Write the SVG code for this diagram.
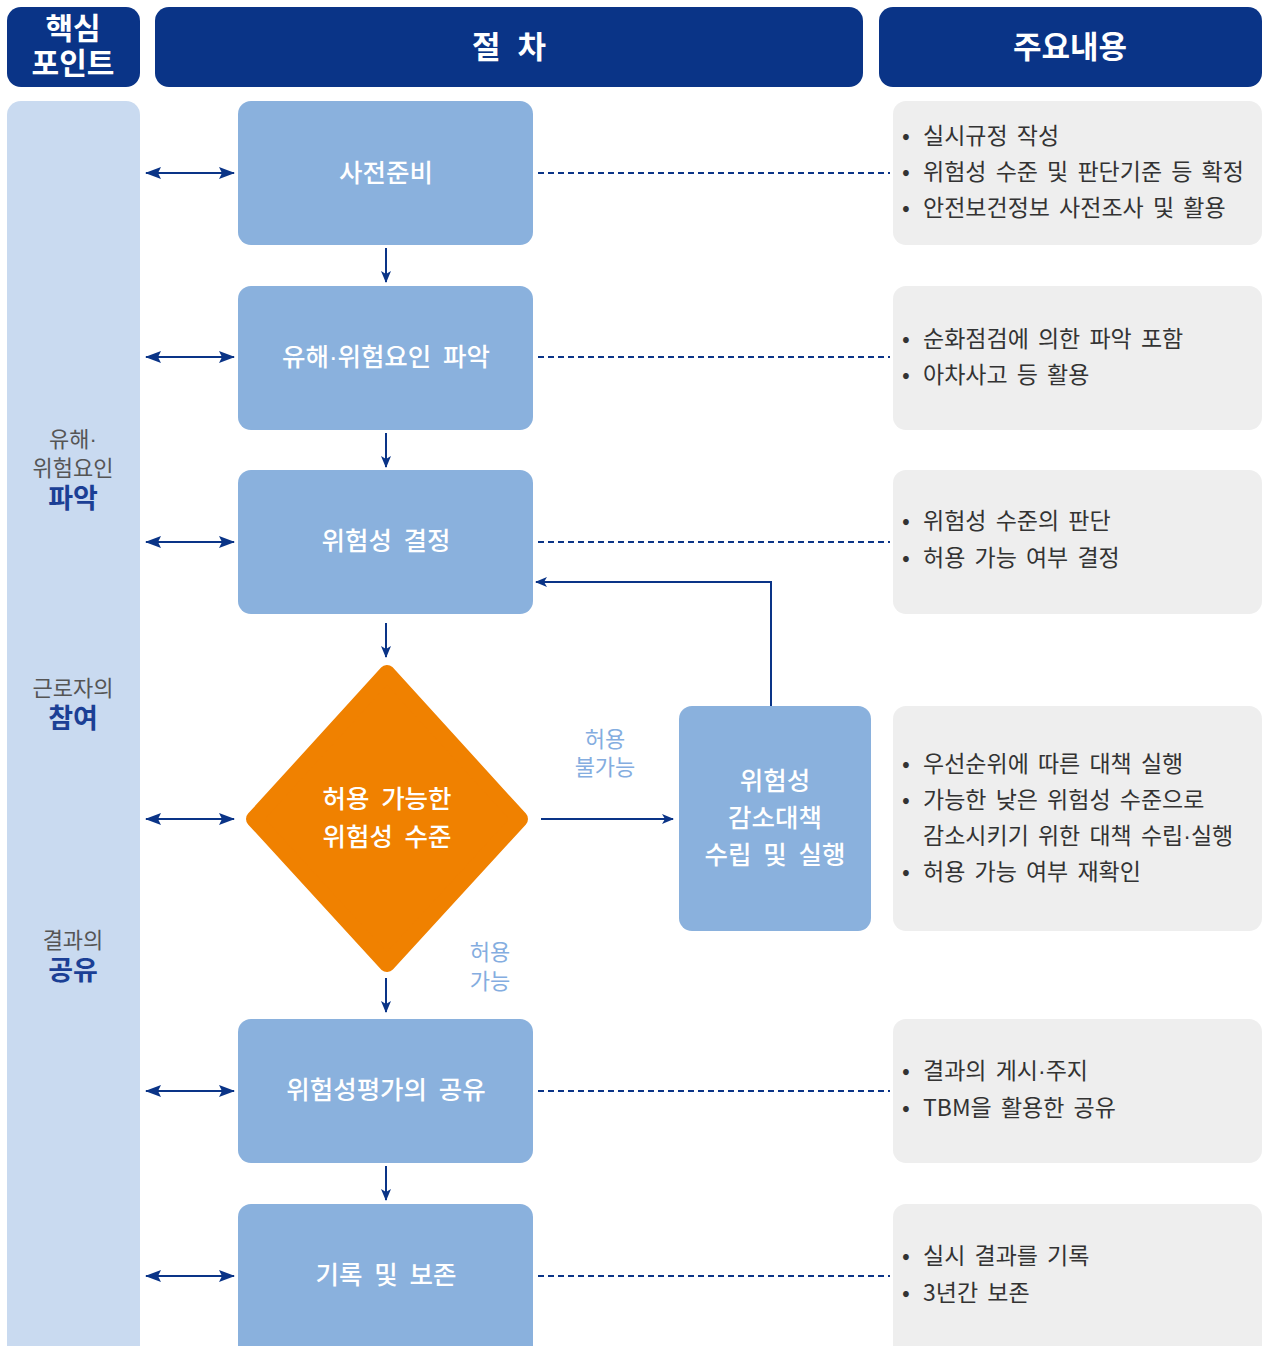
<svg xmlns="http://www.w3.org/2000/svg" width="1268" height="1346" viewBox="0 0 1268 1346">
<defs>
<style>
text{font-family:"Noto Sans CJK KR","Noto Sans",sans-serif;}
.dot{font-family:"Liberation Sans",sans-serif;}
.hdr{fill:#0a3487;}
.hdrt{fill:#fff;font-size:31px;font-weight:700;text-anchor:middle;}
.hdrs{fill:#fff;font-size:30px;font-weight:700;text-anchor:middle;}
.side{fill:#c9daf0;}
.sidet{fill:#555;font-size:22px;text-anchor:middle;}
.sideb{fill:#1b3f95;font-size:27px;font-weight:700;text-anchor:middle;}
.box{fill:#8ab1dd;}
.boxt{fill:#fff;font-size:25.5px;font-weight:500;text-anchor:middle;word-spacing:6px;}
.info{fill:#eeeeee;}
.infot{fill:#333;font-size:23px;word-spacing:4px;}
.bul{fill:#333;font-size:23px;text-anchor:middle;}
.lbl{fill:#84ade0;font-size:22px;text-anchor:middle;}
.ln{stroke:#0a3487;stroke-width:2;fill:none;}
.dash{stroke:#0a3487;stroke-width:2;fill:none;stroke-dasharray:6 4;}
</style>
<marker id="ah" viewBox="0 0 12 10" refX="11" refY="5" markerWidth="12" markerHeight="10" markerUnits="userSpaceOnUse" orient="auto-start-reverse">
<path d="M0,0 L12,5 L0,10 L3,5 Z" fill="#0a3487"/>
</marker>
<marker id="ahs" viewBox="0 0 16 12" refX="15" refY="6" markerWidth="16" markerHeight="12" markerUnits="userSpaceOnUse" orient="auto-start-reverse">
<path d="M0,0 L16,6 L0,12 L3,6 Z" fill="#0a3487"/>
</marker>
</defs>
<rect width="1268" height="1346" fill="#fff"/>

<g id="header-point">
<rect class="hdr" x="7" y="7" width="133" height="80" rx="14"/>
<text class="hdrs" x="73" y="39">핵심</text>
<text class="hdrs" x="73" y="74">포인트</text>
</g>
<g id="header-process">
<rect class="hdr" x="155" y="7" width="708" height="80" rx="14"/>
<text class="hdrt" x="509" y="58" style="word-spacing:10px">절 차</text>
</g>
<g id="header-content">
<rect class="hdr" x="879" y="7" width="383" height="80" rx="14"/>
<text class="hdrt" x="1070" y="58">주요내용</text>
</g>

<g id="side-column">
<rect class="side" x="7" y="101" width="133" height="1265" rx="14"/>
<text class="sidet" x="73" y="447">유해<tspan class="dot">·</tspan></text>
<text class="sidet" x="73" y="476">위험요인</text>
<text class="sideb" x="73" y="508">파악</text>
<text class="sidet" x="73" y="696">근로자의</text>
<text class="sideb" x="73" y="728">참여</text>
<text class="sidet" x="73" y="948">결과의</text>
<text class="sideb" x="73" y="980">공유</text>
</g>

<g id="step1">
<rect class="box" x="238" y="101" width="295" height="144" rx="13"/>
<text class="boxt" x="386" y="182">사전준비</text>
</g>
<g id="step2">
<rect class="box" x="238" y="286" width="295" height="144" rx="13"/>
<text class="boxt" x="386" y="366">유해<tspan class="dot">·</tspan>위험요인 파악</text>
</g>
<g id="step3">
<rect class="box" x="238" y="470" width="295" height="144" rx="13"/>
<text class="boxt" x="386" y="550">위험성 결정</text>
</g>
<g id="decision">
<polygon points="387,673 520,819 387,964 254,819" fill="#f08100" stroke="#f08100" stroke-width="16" stroke-linejoin="round"/>
<text class="boxt" x="387" y="808">허용 가능한</text>
<text class="boxt" x="387" y="846">위험성 수준</text>
</g>
<g id="reduction">
<rect class="box" x="679" y="706" width="192" height="225" rx="13"/>
<text class="boxt" x="775" y="790">위험성</text>
<text class="boxt" x="775" y="827">감소대책</text>
<text class="boxt" x="775" y="864">수립 및 실행</text>
</g>
<g id="step5">
<rect class="box" x="238" y="1019" width="295" height="144" rx="13"/>
<text class="boxt" x="386" y="1099">위험성평가의 공유</text>
</g>
<g id="step6">
<rect class="box" x="238" y="1204" width="295" height="160" rx="13"/>
<text class="boxt" x="386" y="1284">기록 및 보존</text>
</g>

<g id="info1">
<rect class="info" x="893" y="101" width="369" height="144" rx="13"/>
<text class="bul" x="906" y="144">•</text><text class="infot" x="923" y="144">실시규정 작성</text>
<text class="bul" x="906" y="180">•</text><text class="infot" x="923" y="180">위험성 수준 및 판단기준 등 확정</text>
<text class="bul" x="906" y="216">•</text><text class="infot" x="923" y="216">안전보건정보 사전조사 및 활용</text>
</g>
<g id="info2">
<rect class="info" x="893" y="286" width="369" height="144" rx="13"/>
<text class="bul" x="906" y="347">•</text><text class="infot" x="923" y="347">순화점검에 의한 파악 포함</text>
<text class="bul" x="906" y="383">•</text><text class="infot" x="923" y="383">아차사고 등 활용</text>
</g>
<g id="info3">
<rect class="info" x="893" y="470" width="369" height="144" rx="13"/>
<text class="bul" x="906" y="529">•</text><text class="infot" x="923" y="529">위험성 수준의 판단</text>
<text class="bul" x="906" y="566">•</text><text class="infot" x="923" y="566">허용 가능 여부 결정</text>
</g>
<g id="info4">
<rect class="info" x="893" y="706" width="369" height="225" rx="13"/>
<text class="bul" x="906" y="772">•</text><text class="infot" x="923" y="772">우선순위에 따른 대책 실행</text>
<text class="bul" x="906" y="808">•</text><text class="infot" x="923" y="808">가능한 낮은 위험성 수준으로</text>
<text class="infot" x="923" y="844">감소시키기 위한 대책 수립<tspan class="dot">·</tspan>실행</text>
<text class="bul" x="906" y="880">•</text><text class="infot" x="923" y="880">허용 가능 여부 재확인</text>
</g>
<g id="info5">
<rect class="info" x="893" y="1019" width="369" height="144" rx="13"/>
<text class="bul" x="906" y="1079">•</text><text class="infot" x="923" y="1079">결과의 게시<tspan class="dot">·</tspan>주지</text>
<text class="bul" x="906" y="1116">•</text><text class="infot" x="923" y="1116">TBM을 활용한 공유</text>
</g>
<g id="info6">
<rect class="info" x="893" y="1204" width="369" height="160" rx="13"/>
<text class="bul" x="906" y="1264">•</text><text class="infot" x="923" y="1264">실시 결과를 기록</text>
<text class="bul" x="906" y="1301">•</text><text class="infot" x="923" y="1301">3년간 보존</text>
</g>

<g id="labels">
<text class="lbl" x="605" y="747">허용</text>
<text class="lbl" x="605" y="775">불가능</text>
<text class="lbl" x="490" y="960">허용</text>
<text class="lbl" x="490" y="989">가능</text>
</g>

<g id="connectors">
<line class="ln" x1="146" y1="173" x2="234" y2="173" marker-start="url(#ahs)" marker-end="url(#ahs)"/>
<line class="ln" x1="146" y1="357" x2="234" y2="357" marker-start="url(#ahs)" marker-end="url(#ahs)"/>
<line class="ln" x1="146" y1="542" x2="234" y2="542" marker-start="url(#ahs)" marker-end="url(#ahs)"/>
<line class="ln" x1="146" y1="819" x2="234" y2="819" marker-start="url(#ahs)" marker-end="url(#ahs)"/>
<line class="ln" x1="146" y1="1091" x2="234" y2="1091" marker-start="url(#ahs)" marker-end="url(#ahs)"/>
<line class="ln" x1="146" y1="1276" x2="234" y2="1276" marker-start="url(#ahs)" marker-end="url(#ahs)"/>

<line class="ln" x1="386" y1="248" x2="386" y2="282" marker-end="url(#ah)"/>
<line class="ln" x1="386" y1="433" x2="386" y2="467" marker-end="url(#ah)"/>
<line class="ln" x1="386" y1="623" x2="386" y2="657" marker-end="url(#ah)"/>
<line class="ln" x1="386" y1="978" x2="386" y2="1012" marker-end="url(#ah)"/>
<line class="ln" x1="386" y1="1166" x2="386" y2="1200" marker-end="url(#ah)"/>

<line class="ln" x1="541" y1="819" x2="673" y2="819" marker-end="url(#ah)"/>
<polyline class="ln" points="771,706 771,582 536,582" marker-end="url(#ah)"/>

<line class="dash" x1="538" y1="173" x2="890" y2="173"/>
<line class="dash" x1="538" y1="357" x2="890" y2="357"/>
<line class="dash" x1="538" y1="542" x2="890" y2="542"/>
<line class="dash" x1="538" y1="1091" x2="890" y2="1091"/>
<line class="dash" x1="538" y1="1276" x2="890" y2="1276"/>
</g>
</svg>
